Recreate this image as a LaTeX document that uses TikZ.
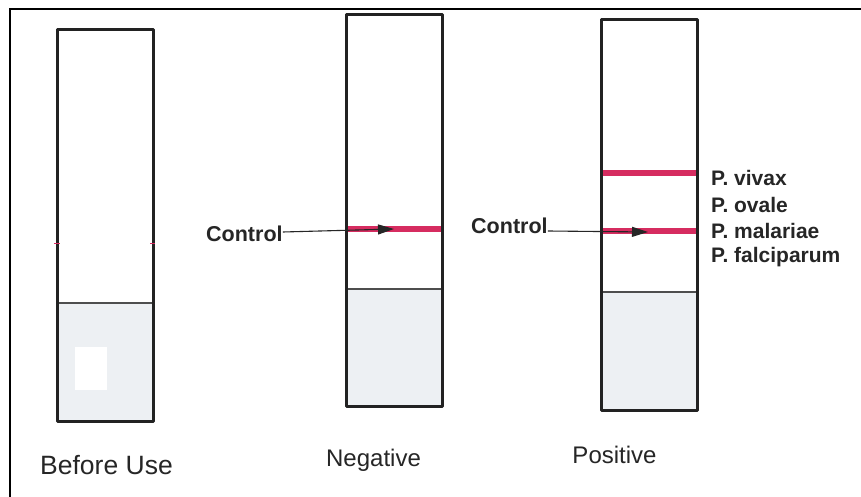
\documentclass[tikz,border=0pt]{standalone}
\usepackage{fontspec}
\setmainfont{Liberation Sans}
\usetikzlibrary{arrows.meta}
\definecolor{bandred}{RGB}{214,44,96}
\definecolor{padgray}{RGB}{237,240,243}
\definecolor{stripline}{RGB}{34,34,34}
\tikzset{
  stripedge/.style={draw=stripline, line width=3pt, line join=round},
  divider/.style={draw=stripline!80, line width=1.8pt},
  band/.style={draw=bandred, line width=6pt},
  ctrltext/.style={font=\bfseries\fontsize{21.5}{25}\selectfont, inner sep=0pt, text=black!85},
  specie/.style={font=\bfseries\fontsize{21}{25}\selectfont, inner sep=0pt, anchor=west, text=black!85},
  caption/.style={font=\fontsize{24}{28}\selectfont, inner sep=0pt, text=black!85},
  pointer/.style={draw=black!85, line width=1.1pt, -{Triangle[length=16pt,width=10pt]}}
}
\begin{document}
\begin{tikzpicture}[x=1pt,y=-1pt]
\useasboundingbox (0,0) rectangle (861,497);
\fill[white] (0,0) rectangle (861,497);
\draw[line width=2pt] (10,497) -- (10,9) -- (861,9);

% Strip 1: before use
\fill[padgray] (57,303) rectangle (153,421);
\fill[white] (75,347) rectangle (107,390);
\draw[divider] (57,303) -- (153,303);
\draw[stripedge] (57,30) rectangle (153,421);
\draw[bandred, line width=1pt] (54,243) -- (60,243);
\draw[bandred, line width=1pt] (150,243) -- (155,243);

% Strip 2: negative
\fill[padgray] (346,289) rectangle (442,406);
\draw[band] (346,229) -- (442,229);
\draw[divider] (346,289) -- (442,289);
\draw[stripedge] (346,15) rectangle (442,406);

% Strip 3: positive
\fill[padgray] (601,292) rectangle (697,410);
\draw[band] (601,173) -- (697,173);
\draw[band] (601,231) -- (697,231);
\draw[divider] (601,292) -- (697,292);
\draw[stripedge] (601,20) rectangle (697,410);

% Control labels and pointers
\node[ctrltext, anchor=west] (ctrlA) at (206,234) {Control};
\coordinate (tipA) at (394,229);
\draw[pointer] ([yshift=2pt]ctrlA.east) -- (tipA);

\node[ctrltext, anchor=west] (ctrlB) at (471,226) {Control};
\coordinate (tipB) at (648,232);
\draw[pointer] ([yshift=-5pt]ctrlB.east) -- (tipB);

% Species labels
\node[specie] (viv) at (711,178) {P. vivax};
\node[specie] (ova) at (711,205) {P. ovale};
\node[specie] (mal) at (711,231) {P. malariae};
\node[specie] (fal) at (711,257) {P. falciparum};

% Captions
\node[caption, font=\fontsize{26.5}{30}\selectfont] (cap1) at (106.5,465) {Before Use};
\node[caption] (cap2) at (373.5,460) {Negative};
\node[caption] (cap3) at (614.5,455) {Positive};
\end{tikzpicture}
\end{document}
